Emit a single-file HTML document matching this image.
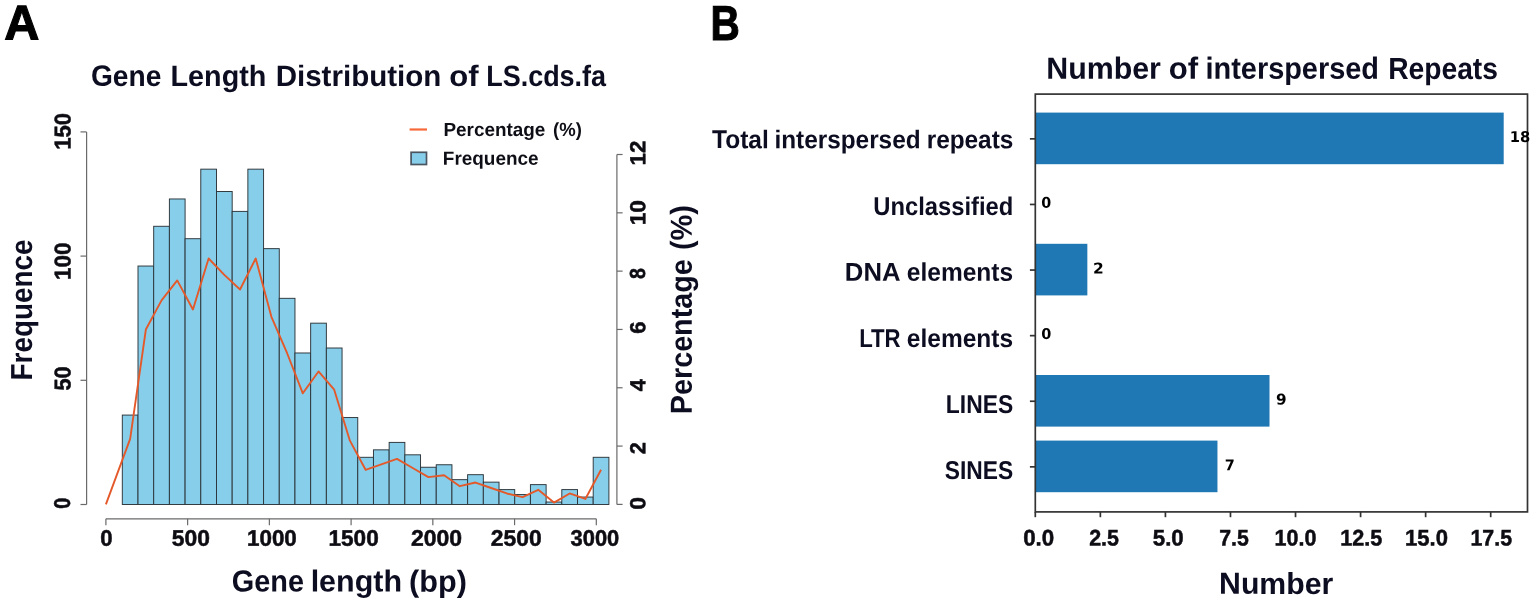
<!DOCTYPE html>
<html lang="en"><head><meta charset="utf-8"><title>Gene length distribution and interspersed repeats</title>
<style>
html,body{margin:0;padding:0;background:#fff;}
body{width:1535px;height:604px;overflow:hidden;}
svg{display:block;}
text{font-family:"Liberation Sans",sans-serif;font-weight:bold;text-rendering:geometricPrecision;}
text.dv{font-family:"DejaVu Sans","Liberation Sans",sans-serif;font-weight:bold;}
</style></head><body>
<svg role="img" aria-label="Gene length distribution histogram and interspersed repeats bar chart" width="1535" height="604" viewBox="0 0 1535 604">
<rect x="0" y="0" width="1535" height="604" fill="#ffffff"/>
<g id="histA" fill="#87ceeb" stroke="#2c3439" stroke-width="0.95">
<rect x="122.30" y="415.08" width="15.70" height="89.42"/>
<rect x="138.00" y="266.04" width="15.70" height="238.46"/>
<rect x="153.69" y="226.29" width="15.70" height="278.21"/>
<rect x="169.39" y="198.97" width="15.70" height="305.53"/>
<rect x="185.09" y="238.71" width="15.70" height="265.79"/>
<rect x="200.78" y="169.16" width="15.70" height="335.34"/>
<rect x="216.48" y="191.52" width="15.70" height="312.98"/>
<rect x="232.18" y="211.39" width="15.70" height="293.11"/>
<rect x="247.87" y="169.16" width="15.70" height="335.34"/>
<rect x="263.57" y="248.65" width="15.70" height="255.85"/>
<rect x="279.27" y="298.33" width="15.70" height="206.17"/>
<rect x="294.96" y="352.98" width="15.70" height="151.52"/>
<rect x="310.66" y="323.17" width="15.70" height="181.33"/>
<rect x="326.36" y="348.01" width="15.70" height="156.49"/>
<rect x="342.05" y="417.56" width="15.70" height="86.94"/>
<rect x="357.75" y="457.30" width="15.70" height="47.20"/>
<rect x="373.45" y="449.85" width="15.70" height="54.65"/>
<rect x="389.15" y="442.40" width="15.70" height="62.10"/>
<rect x="404.84" y="454.82" width="15.70" height="49.68"/>
<rect x="420.54" y="467.24" width="15.70" height="37.26"/>
<rect x="436.24" y="464.76" width="15.70" height="39.74"/>
<rect x="451.93" y="479.66" width="15.70" height="24.84"/>
<rect x="467.63" y="474.69" width="15.70" height="29.81"/>
<rect x="483.33" y="482.14" width="15.70" height="22.36"/>
<rect x="499.02" y="489.60" width="15.70" height="14.90"/>
<rect x="514.72" y="494.56" width="15.70" height="9.94"/>
<rect x="530.42" y="484.63" width="15.70" height="19.87"/>
<rect x="546.11" y="502.02" width="15.70" height="2.48"/>
<rect x="561.81" y="489.60" width="15.70" height="14.90"/>
<rect x="577.51" y="497.05" width="15.70" height="7.45"/>
<rect x="593.20" y="457.30" width="15.70" height="47.20"/>
</g>
<polyline id="pctLine" fill="none" stroke="#e4592a" stroke-width="1.9" stroke-linejoin="round" points="105.90,504.40 130.15,438.83 145.85,329.56 161.54,300.42 177.24,280.39 192.94,309.53 208.63,258.53 224.33,274.92 240.03,289.49 255.72,258.53 271.42,316.81 287.12,353.24 302.81,393.30 318.51,371.45 334.21,389.66 349.90,440.66 365.60,469.80 381.30,464.33 396.99,458.87 412.69,467.97 428.39,477.08 444.08,475.26 459.78,486.19 475.48,482.54 491.17,488.01 506.87,493.47 522.57,497.11 538.26,489.83 553.96,502.58 569.66,493.47 585.35,498.94 601.05,469.80"/>
<g id="axesA" stroke="#6a6a6a" stroke-width="1.2" fill="none">
<path d="M86.6 504.50V131.90"/>
<path d="M80.5 504.50H86.6"/>
<path d="M80.5 380.30H86.6"/>
<path d="M80.5 256.10H86.6"/>
<path d="M80.5 131.90H86.6"/>
<path d="M105.90 518.8H596.30"/>
<path d="M105.90 518.8V525.2"/>
<path d="M187.63 518.8V525.2"/>
<path d="M269.37 518.8V525.2"/>
<path d="M351.10 518.8V525.2"/>
<path d="M432.83 518.8V525.2"/>
<path d="M514.57 518.8V525.2"/>
<path d="M596.30 518.8V525.2"/>
<path d="M616.9 504.40V154.50"/>
<path d="M616.9 504.40H622.6"/>
<path d="M616.9 446.08H622.6"/>
<path d="M616.9 387.77H622.6"/>
<path d="M616.9 329.45H622.6"/>
<path d="M616.9 271.13H622.6"/>
<path d="M616.9 212.82H622.6"/>
<path d="M616.9 154.50H622.6"/>
</g>
<path id="legLine" d="M409.6 129.5H427" stroke="#f7683a" stroke-width="2.2" fill="none"/>
<rect id="legBox" x="411.1" y="152.3" width="15.4" height="12.2" fill="#87ceeb" stroke="#4a5560" stroke-width="1.7"/>
<g id="barsB" fill="#1f77b4">
<rect x="1035.30" y="112.60" width="468.40" height="51.60"/>
<rect x="1035.30" y="243.80" width="52.04" height="51.60"/>
<rect x="1035.30" y="375.00" width="234.20" height="51.60"/>
<rect x="1035.30" y="440.60" width="182.16" height="51.60"/>
</g>
<g id="axesB" stroke="#333333" stroke-width="1.7" fill="none">
<rect x="1035.3" y="94.1" width="492.20" height="417.80"/>
<path d="M1029.9 138.85H1035.3"/>
<path d="M1029.9 204.45H1035.3"/>
<path d="M1029.9 270.05H1035.3"/>
<path d="M1029.9 335.65H1035.3"/>
<path d="M1029.9 401.25H1035.3"/>
<path d="M1029.9 466.85H1035.3"/>
<path d="M1035.30 511.9V517.2"/>
<path d="M1100.36 511.9V517.2"/>
<path d="M1165.41 511.9V517.2"/>
<path d="M1230.47 511.9V517.2"/>
<path d="M1295.52 511.9V517.2"/>
<path d="M1360.58 511.9V517.2"/>
<path d="M1425.63 511.9V517.2"/>
<path d="M1490.69 511.9V517.2"/>
</g>
<g id="textA">
<text y="39.60" transform="rotate(0.03 22.0 39.60)" font-size="48.9" fill="#000000" stroke="#000000" stroke-width="1.1" stroke-linejoin="miter"><tspan id="A" x="4.26" textLength="35.14" lengthAdjust="spacingAndGlyphs">A</tspan></text>
<text y="86.00" transform="rotate(0.03 343.1 86.00)" font-size="29.5" fill="#0d0d21"><tspan id="titleA_0" x="90.93" textLength="70.39" lengthAdjust="spacingAndGlyphs">Gene</tspan> <tspan id="titleA_1" x="170.56" textLength="95.78" lengthAdjust="spacingAndGlyphs">Length</tspan> <tspan id="titleA_2" x="275.67" textLength="165.66" lengthAdjust="spacingAndGlyphs">Distribution</tspan> <tspan id="titleA_3" x="449.34" textLength="29.28" lengthAdjust="spacingAndGlyphs">of</tspan> <tspan id="titleA_4" x="486.23" textLength="119.83" lengthAdjust="spacingAndGlyphs">LS.cds.fa</tspan></text>
<text y="136.10" transform="rotate(0.03 531.0 136.10)" font-size="19" fill="#0e0e16"><tspan id="leg1_0" x="443.46" textLength="101.87" lengthAdjust="spacingAndGlyphs">Percentage</tspan> <tspan id="leg1_1" x="553.12" textLength="28.81" lengthAdjust="spacingAndGlyphs">(%)</tspan></text>
<text y="164.70" transform="rotate(0.03 491.1 164.70)" font-size="19" fill="#0e0e16"><tspan id="leg2" x="442.85" textLength="95.70" lengthAdjust="spacingAndGlyphs">Frequence</tspan></text>
<text y="591.60" transform="rotate(0.03 354.3 591.60)" font-size="30.5" fill="#0d0d21"><tspan id="xlabA_0" x="231.70" textLength="72.28" lengthAdjust="spacingAndGlyphs">Gene</tspan> <tspan id="xlabA_1" x="310.64" textLength="91.37" lengthAdjust="spacingAndGlyphs">length</tspan> <tspan id="xlabA_2" x="409.09" textLength="57.80" lengthAdjust="spacingAndGlyphs">(bp)</tspan></text>
<text transform="translate(31.60 309.35) rotate(-89.97)" font-size="30.4" fill="#0d0d21"><tspan id="ylabA" x="-71.09" textLength="140.96" lengthAdjust="spacingAndGlyphs">Frequence</tspan></text>
<text transform="translate(691.80 281.83) rotate(-89.97)" font-size="30.4" fill="#0d0d21"><tspan id="ylabA2_0" x="-132.32" textLength="154.88" lengthAdjust="spacingAndGlyphs">Percentage</tspan> <tspan id="ylabA2_1" x="31.72" textLength="44.91" lengthAdjust="spacingAndGlyphs">(%)</tspan></text>
<text y="545.80" transform="rotate(0.03 106.4 545.80)" font-size="22.4" fill="#0c0c12" stroke="#0c0c12" stroke-width="0.5" stroke-linejoin="miter"><tspan id="xtA0" x="100.27" textLength="12.32" lengthAdjust="spacingAndGlyphs">0</tspan></text>
<text y="545.80" transform="rotate(0.03 190.6 545.80)" font-size="22.4" fill="#0c0c12" stroke="#0c0c12" stroke-width="0.5" stroke-linejoin="miter"><tspan id="xtA500" x="171.77" textLength="38.09" lengthAdjust="spacingAndGlyphs">500</tspan></text>
<text y="545.80" transform="rotate(0.03 272.2 545.80)" font-size="22.4" fill="#0c0c12" stroke="#0c0c12" stroke-width="0.5" stroke-linejoin="miter"><tspan id="xtA1000" x="247.00" textLength="49.83" lengthAdjust="spacingAndGlyphs">1000</tspan></text>
<text y="545.80" transform="rotate(0.03 353.8 545.80)" font-size="22.4" fill="#0c0c12" stroke="#0c0c12" stroke-width="0.5" stroke-linejoin="miter"><tspan id="xtA1500" x="328.52" textLength="50.19" lengthAdjust="spacingAndGlyphs">1500</tspan></text>
<text y="545.80" transform="rotate(0.03 436.5 545.80)" font-size="22.4" fill="#0c0c12" stroke="#0c0c12" stroke-width="0.5" stroke-linejoin="miter"><tspan id="xtA2000" x="410.93" textLength="51.10" lengthAdjust="spacingAndGlyphs">2000</tspan></text>
<text y="545.80" transform="rotate(0.03 516.4 545.80)" font-size="22.4" fill="#0c0c12" stroke="#0c0c12" stroke-width="0.5" stroke-linejoin="miter"><tspan id="xtA2500" x="490.88" textLength="50.83" lengthAdjust="spacingAndGlyphs">2500</tspan></text>
<text y="545.80" transform="rotate(0.03 594.9 545.80)" font-size="22.4" fill="#0c0c12" stroke="#0c0c12" stroke-width="0.5" stroke-linejoin="miter"><tspan id="xtA3000" x="570.57" textLength="48.68" lengthAdjust="spacingAndGlyphs">3000</tspan></text>
<text transform="translate(70.40 131.35) rotate(-89.97)" font-size="22.9" fill="#0c0c12" stroke="#0c0c12" stroke-width="0.5" stroke-linejoin="miter"><tspan id="ytA150" x="-18.47" textLength="36.79" lengthAdjust="spacingAndGlyphs">150</tspan></text>
<text transform="translate(70.40 260.90) rotate(-89.97)" font-size="22.9" fill="#0c0c12" stroke="#0c0c12" stroke-width="0.5" stroke-linejoin="miter"><tspan id="ytA100" x="-19.12" textLength="37.43" lengthAdjust="spacingAndGlyphs">100</tspan></text>
<text transform="translate(70.40 378.35) rotate(-89.97)" font-size="22.9" fill="#0c0c12" stroke="#0c0c12" stroke-width="0.5" stroke-linejoin="miter"><tspan id="ytA50" x="-12.23" textLength="24.20" lengthAdjust="spacingAndGlyphs">50</tspan></text>
<text transform="translate(70.40 503.35) rotate(-89.97)" font-size="22.9" fill="#0c0c12" stroke="#0c0c12" stroke-width="0.5" stroke-linejoin="miter"><tspan id="ytA0" x="-5.46" textLength="10.99" lengthAdjust="spacingAndGlyphs">0</tspan></text>
<text transform="translate(645.20 152.80) rotate(-89.97)" font-size="21.8" fill="#0c0c12" stroke="#0c0c12" stroke-width="0.5" stroke-linejoin="miter"><tspan id="ytR12" x="-12.72" textLength="24.81" lengthAdjust="spacingAndGlyphs">12</tspan></text>
<text transform="translate(645.20 212.35) rotate(-89.97)" font-size="21.8" fill="#0c0c12" stroke="#0c0c12" stroke-width="0.5" stroke-linejoin="miter"><tspan id="ytR10" x="-13.03" textLength="25.08" lengthAdjust="spacingAndGlyphs">10</tspan></text>
<text transform="translate(645.20 273.70) rotate(-89.97)" font-size="21.8" fill="#0c0c12" stroke="#0c0c12" stroke-width="0.5" stroke-linejoin="miter"><tspan id="ytR8" x="-5.36" textLength="10.93" lengthAdjust="spacingAndGlyphs">8</tspan></text>
<text transform="translate(645.20 327.65) rotate(-89.97)" font-size="21.8" fill="#0c0c12" stroke="#0c0c12" stroke-width="0.5" stroke-linejoin="miter"><tspan id="ytR6" x="-6.18" textLength="12.26" lengthAdjust="spacingAndGlyphs">6</tspan></text>
<text transform="translate(645.20 384.95) rotate(-89.97)" font-size="21.8" fill="#0c0c12" stroke="#0c0c12" stroke-width="0.5" stroke-linejoin="miter"><tspan id="ytR4" x="-6.20" textLength="12.18" lengthAdjust="spacingAndGlyphs">4</tspan></text>
<text transform="translate(645.20 447.95) rotate(-89.97)" font-size="21.8" fill="#0c0c12" stroke="#0c0c12" stroke-width="0.5" stroke-linejoin="miter"><tspan id="ytR2" x="-6.31" textLength="11.99" lengthAdjust="spacingAndGlyphs">2</tspan></text>
<text transform="translate(645.20 503.25) rotate(-89.97)" font-size="21.8" fill="#0c0c12" stroke="#0c0c12" stroke-width="0.5" stroke-linejoin="miter"><tspan id="ytR0" x="-6.56" textLength="12.73" lengthAdjust="spacingAndGlyphs">0</tspan></text>
</g>
<g id="textB">
<text y="39.60" transform="rotate(0.03 725.6 39.60)" font-size="48.9" fill="#000000" stroke="#000000" stroke-width="1.1" stroke-linejoin="miter"><tspan id="B" x="710.53" textLength="29.28" lengthAdjust="spacingAndGlyphs">B</tspan></text>
<text y="78.80" transform="rotate(0.03 1256.0 78.80)" font-size="30.6" fill="#0d0d21"><tspan id="titleB_0" x="1046.25" textLength="114.68" lengthAdjust="spacingAndGlyphs">Number</tspan> <tspan id="titleB_1" x="1168.72" textLength="29.35" lengthAdjust="spacingAndGlyphs">of</tspan> <tspan id="titleB_2" x="1205.48" textLength="173.57" lengthAdjust="spacingAndGlyphs">interspersed</tspan> <tspan id="titleB_3" x="1388.16" textLength="109.77" lengthAdjust="spacingAndGlyphs">Repeats</tspan></text>
<text y="593.90" transform="rotate(0.03 1277.0 593.90)" font-size="30.4" fill="#0d0d21"><tspan id="xlabB" x="1219.07" textLength="114.17" lengthAdjust="spacingAndGlyphs">Number</tspan></text>
<text y="545.60" transform="rotate(0.03 1038.5 545.60)" font-size="22.6" fill="#0c0c12" stroke="#0c0c12" stroke-width="0.5" stroke-linejoin="miter"><tspan id="xtB0.0" x="1023.17" textLength="31.01" lengthAdjust="spacingAndGlyphs">0.0</tspan></text>
<text y="545.60" transform="rotate(0.03 1103.8 545.60)" font-size="22.6" fill="#0c0c12" stroke="#0c0c12" stroke-width="0.5" stroke-linejoin="miter"><tspan id="xtB2.5" x="1089.16" textLength="29.76" lengthAdjust="spacingAndGlyphs">2.5</tspan></text>
<text y="545.60" transform="rotate(0.03 1168.4 545.60)" font-size="22.6" fill="#0c0c12" stroke="#0c0c12" stroke-width="0.5" stroke-linejoin="miter"><tspan id="xtB5.0" x="1152.81" textLength="30.95" lengthAdjust="spacingAndGlyphs">5.0</tspan></text>
<text y="545.60" transform="rotate(0.03 1233.8 545.60)" font-size="22.6" fill="#0c0c12" stroke="#0c0c12" stroke-width="0.5" stroke-linejoin="miter"><tspan id="xtB7.5" x="1219.16" textLength="29.56" lengthAdjust="spacingAndGlyphs">7.5</tspan></text>
<text y="545.60" transform="rotate(0.03 1296.0 545.60)" font-size="22.6" fill="#0c0c12" stroke="#0c0c12" stroke-width="0.5" stroke-linejoin="miter"><tspan id="xtB10.0" x="1274.62" textLength="41.78" lengthAdjust="spacingAndGlyphs">10.0</tspan></text>
<text y="545.60" transform="rotate(0.03 1361.8 545.60)" font-size="22.6" fill="#0c0c12" stroke="#0c0c12" stroke-width="0.5" stroke-linejoin="miter"><tspan id="xtB12.5" x="1340.18" textLength="42.06" lengthAdjust="spacingAndGlyphs">12.5</tspan></text>
<text y="545.60" transform="rotate(0.03 1426.7 545.60)" font-size="22.6" fill="#0c0c12" stroke="#0c0c12" stroke-width="0.5" stroke-linejoin="miter"><tspan id="xtB15.0" x="1405.08" textLength="42.90" lengthAdjust="spacingAndGlyphs">15.0</tspan></text>
<text y="545.60" transform="rotate(0.03 1491.6 545.60)" font-size="22.6" fill="#0c0c12" stroke="#0c0c12" stroke-width="0.5" stroke-linejoin="miter"><tspan id="xtB17.5" x="1470.50" textLength="41.49" lengthAdjust="spacingAndGlyphs">17.5</tspan></text>
<text y="148.20" transform="rotate(0.03 852.5 148.20)" font-size="25.7" fill="#0d0d21"><tspan id="ylB0_0" x="712.00" textLength="56.80" lengthAdjust="spacingAndGlyphs">Total</tspan> <tspan id="ylB0_1" x="774.44" textLength="146.12" lengthAdjust="spacingAndGlyphs">interspersed</tspan> <tspan id="ylB0_2" x="926.67" textLength="86.65" lengthAdjust="spacingAndGlyphs">repeats</tspan></text>
<text y="214.80" transform="rotate(0.03 943.2 214.80)" font-size="25.7" fill="#0d0d21"><tspan id="ylB1" x="873.25" textLength="139.99" lengthAdjust="spacingAndGlyphs">Unclassified</tspan></text>
<text y="280.70" transform="rotate(0.03 916.6 280.70)" font-size="25.7" fill="#0d0d21"><tspan id="ylB2_0" x="844.87" textLength="54.69" lengthAdjust="spacingAndGlyphs">DNA</tspan> <tspan id="ylB2_1" x="906.84" textLength="106.28" lengthAdjust="spacingAndGlyphs">elements</tspan></text>
<text y="346.90" transform="rotate(0.03 920.0 346.90)" font-size="25.7" fill="#0d0d21"><tspan id="ylB3_0" x="859.13" textLength="41.46" lengthAdjust="spacingAndGlyphs">LTR</tspan> <tspan id="ylB3_1" x="906.84" textLength="106.28" lengthAdjust="spacingAndGlyphs">elements</tspan></text>
<text y="413.10" transform="rotate(0.03 979.8 413.10)" font-size="25.7" fill="#0d0d21"><tspan id="ylB4" x="945.86" textLength="67.40" lengthAdjust="spacingAndGlyphs">LINES</tspan></text>
<text y="478.90" transform="rotate(0.03 978.6 478.90)" font-size="25.7" fill="#0d0d21"><tspan id="ylB5" x="944.79" textLength="68.42" lengthAdjust="spacingAndGlyphs">SINES</tspan></text>
<text y="142.10" transform="rotate(0.03 1520.6 142.10)" font-size="14.9" fill="#000000" class="dv"><tspan id="vl0" x="1509.68" textLength="20.47" lengthAdjust="spacingAndGlyphs">18</tspan></text>
<text y="207.80" transform="rotate(0.03 1046.6 207.80)" font-size="14.9" fill="#000000" class="dv"><tspan id="vl1" x="1041.35" textLength="9.97" lengthAdjust="spacingAndGlyphs">0</tspan></text>
<text y="273.40" transform="rotate(0.03 1098.4 273.40)" font-size="14.9" fill="#000000" class="dv"><tspan id="vl2" x="1092.97" textLength="10.76" lengthAdjust="spacingAndGlyphs">2</tspan></text>
<text y="339.00" transform="rotate(0.03 1046.6 339.00)" font-size="14.9" fill="#000000" class="dv"><tspan id="vl3" x="1041.24" textLength="10.10" lengthAdjust="spacingAndGlyphs">0</tspan></text>
<text y="404.60" transform="rotate(0.03 1281.2 404.60)" font-size="14.9" fill="#000000" class="dv"><tspan id="vl4" x="1276.06" textLength="10.64" lengthAdjust="spacingAndGlyphs">9</tspan></text>
<text y="470.20" transform="rotate(0.03 1229.3 470.20)" font-size="14.9" fill="#000000" class="dv"><tspan id="vl5" x="1224.84" textLength="10.05" lengthAdjust="spacingAndGlyphs">7</tspan></text>
</g>
</svg></body></html>
